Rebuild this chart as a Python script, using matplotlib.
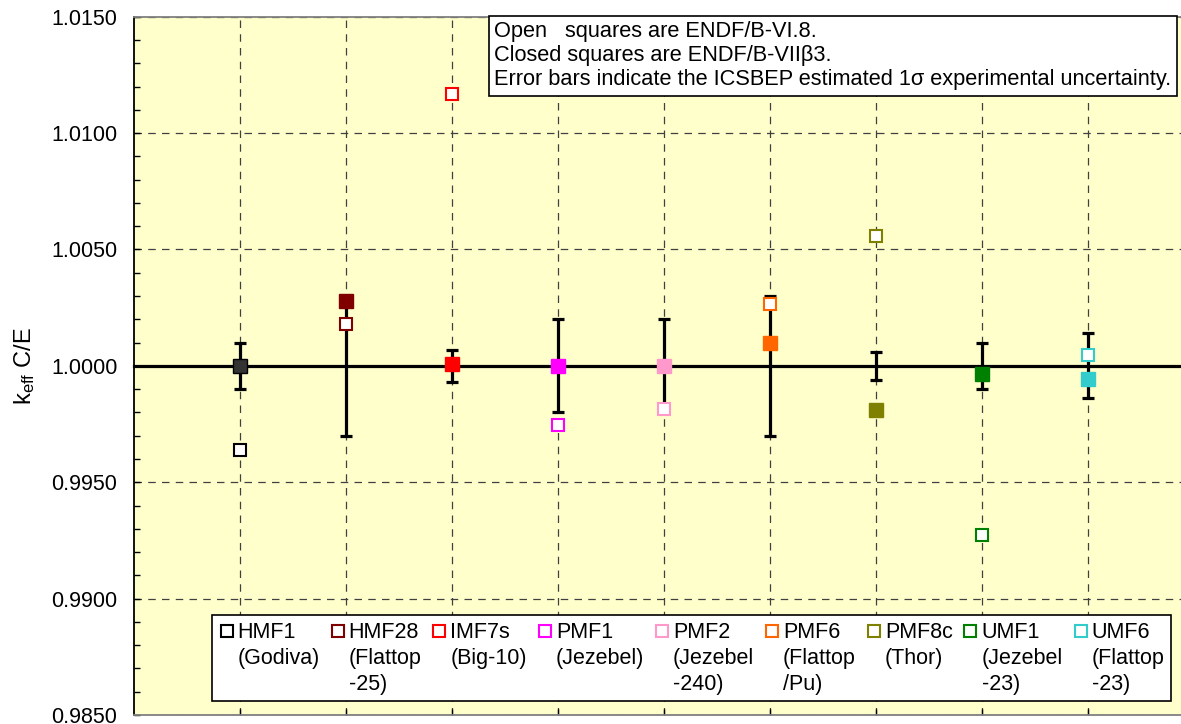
import numpy as np
import matplotlib
matplotlib.use("Agg")
import matplotlib.pyplot as plt
from matplotlib.lines import Line2D
from matplotlib.legend_handler import HandlerLine2D
from matplotlib.ticker import MultipleLocator

plt.rcParams['font.family'] = ['Liberation Sans', 'DejaVu Sans']
plt.rcParams['mathtext.default'] = 'regular'

# ---------------- data ----------------
benchmarks = ["HMF1", "HMF28", "IMF7s", "PMF1", "PMF2", "PMF6", "PMF8c", "UMF1", "UMF6"]
names = ["(Godiva)", "(Flattop\n-25)", "(Big-10)", "(Jezebel)", "(Jezebel\n-240)",
         "(Flattop\n/Pu)", "(Thor)", "(Jezebel\n-23)", "(Flattop\n-23)"]
endf_b7b3 = [1.0000, 1.0028, 1.0001, 1.0000, 1.0000, 1.0010, 0.9981, 0.99966, 0.99943]   # closed
endf_b68 = [0.99638, 1.0018, 1.01166, 0.99745, 0.99813, 1.00264, 1.00557, 0.99273, 1.00047]  # open
exp_unc = [0.0010, 0.0030, 0.0007, 0.0020, 0.0020, 0.0030, 0.0006, 0.0010, 0.0014]
edge_colors = ["#000000", "#800000", "#FF0000", "#FF00FF", "#FF99CC", "#FF6600", "#808000", "#008000", "#33CCCC"]
fill_colors = ["#333333", "#800000", "#FF0000", "#FF00FF", "#FF99CC", "#FF6600", "#808000", "#008000", "#33CCCC"]
y_ticks = [0.9850, 0.9900, 0.9950, 1.0000, 1.0050, 1.0100, 1.0150]
note_lines = ["Open   squares are ENDF/B-VI.8.",
              "Closed squares are ENDF/B-VIIβ3.",
              "Error bars indicate the ICSBEP estimated 1σ experimental uncertainty."]

W, H = 1181, 724
fig = plt.figure(figsize=(W / 100, H / 100), dpi=100)
L, R, T, B = 134, 1181, 16.7, 715
ax = fig.add_axes([L / W, (H - B) / H, (R - L) / W, (B - T) / H])
ax.set_facecolor("#FFFFCC")

x = np.arange(1, len(benchmarks) + 1)
ax.set_xlim(0, (R - L) / 106.05)
ax.set_ylim(0.985, 1.015)

# grid / ticks
ax.set_xticks(x)
ax.set_xticklabels([""] * len(x))
ax.set_yticks(y_ticks)
ax.set_yticklabels([f"{v:.4f}" for v in y_ticks])
ax.yaxis.set_minor_locator(MultipleLocator(0.001))
ax.grid(True, which="major", linestyle=(0, (6, 5)), color="#404040", linewidth=0.9, zorder=1)
ax.set_axisbelow(True)
ax.tick_params(axis="y", which="both", direction="in", length=4, width=1, labelsize=15.5, pad=12,
               colors="black")
ax.tick_params(axis="x", which="both", direction="in", length=4, width=1)
for s in ["top", "bottom"]:
    ax.spines[s].set_color("#808080")
    ax.spines[s].set_linewidth(1.3)
ax.spines["left"].set_color("black")
ax.spines["left"].set_linewidth(1.3)
ax.spines["right"].set_visible(False)

ax.axhline(1.0, color="black", linewidth=2.3, zorder=2, clip_on=False)

ax.errorbar(x, np.ones(len(x)), yerr=exp_unc, fmt="none", ecolor="black", elinewidth=2.3,
            capsize=4.5, capthick=2.3, zorder=3)

for i in range(len(x)):
    ax.plot(x[i], endf_b68[i], marker="s", ls="none", ms=9.2, mfc="white",
            mec=edge_colors[i], mew=1.5, zorder=5)
    ax.plot(x[i], endf_b7b3[i], marker="s", ls="none", ms=9.6, mfc=fill_colors[i],
            mec=edge_colors[i] if i == 0 else fill_colors[i], mew=1.0, zorder=6)

ax.set_ylabel(r"k$_{eff}$ C/E", fontsize=17, labelpad=10)

# note box
ax.text((494 - L) / (R - L), 1 - (21 - T) / (B - T), "\n".join(note_lines), transform=ax.transAxes,
        ha="left", va="top", fontsize=15.7, linespacing=1.2, zorder=10,
        bbox=dict(boxstyle="square,pad=0.25", facecolor="white", edgecolor="black", linewidth=1.2))


# legend
class FirstLineHandler(HandlerLine2D):
    def __init__(self, shift, **kw):
        super().__init__(**kw)
        self.shift = shift

    def create_artists(self, legend, orig_handle, xdescent, ydescent, width, height, fontsize, trans):
        arts = super().create_artists(legend, orig_handle, xdescent, ydescent, width, height, fontsize, trans)
        for a in arts:
            a.set_ydata(np.asarray(a.get_ydata(), dtype=float) + self.shift)
        return arts


handles = [Line2D([], [], marker="s", ls="none", ms=9, mfc="white", mec=c, mew=1.5) for c in edge_colors]
labels = []
for b, n in zip(benchmarks, names):
    lab = b + "\n" + n
    if lab.count("\n") < 2:
        lab += "\n "
    labels.append(lab)

shift_pt = 19.8
leg = ax.legend(handles, labels, ncol=9, loc="lower left",
                bbox_to_anchor=((212 - L) / (R - L), (B - 701) / (B - T)), borderaxespad=0,
                fontsize=15.5, handlelength=0.75, handletextpad=0.14, columnspacing=0.45,
                borderpad=0.3, fancybox=False, framealpha=1, edgecolor="black",
                handler_map={h: FirstLineHandler(shift_pt) for h in handles})
leg.get_frame().set_linewidth(1.2)
leg.set_zorder(10)
for t in leg.get_texts():
    t.set_linespacing(1.3)

fig.savefig("out.png", dpi=100)
